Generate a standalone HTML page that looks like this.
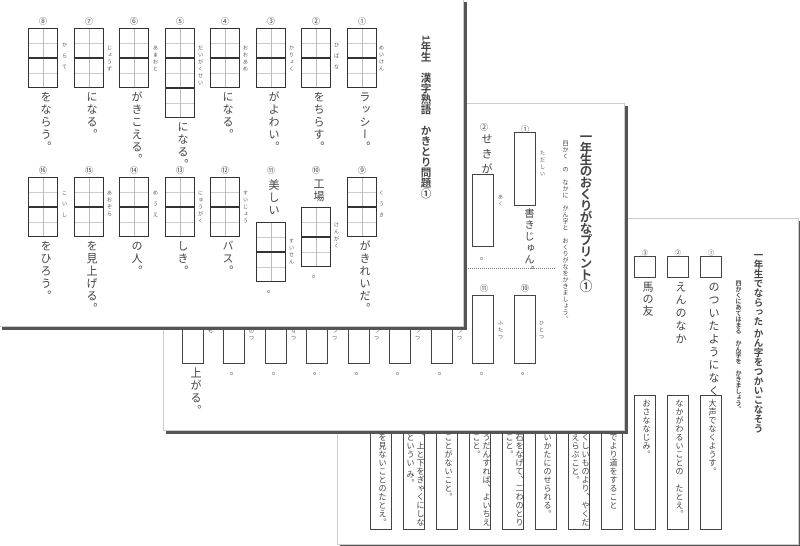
<!DOCTYPE html>
<html><head><meta charset="utf-8"><style>
body{margin:0;width:800px;height:546px;background:#fff;position:relative;overflow:hidden;font-family:"Liberation Sans","Noto Sans CJK JP",sans-serif;color:#444}
.pg{position:absolute;background:#fff;border:1px solid #ccc;box-shadow:3px 3px 0 #555}
.a{position:absolute}
.v{position:absolute;writing-mode:vertical-rl;line-height:1;white-space:nowrap}
.t{font-size:11px;letter-spacing:1.5px;width:13px}
.f{font-size:5px;color:#555;letter-spacing:2px}
.n{position:absolute;font-size:8px;width:20px;text-align:center;color:#444}
.c{position:absolute;width:30px;height:30px;box-sizing:border-box;border:1.5px solid #333;
background:linear-gradient(#bbb,#bbb) 50% 0/1px 100% no-repeat,linear-gradient(#ccc,#ccc) 0 50%/100% 1px no-repeat}
.r{position:absolute;box-sizing:border-box;border:1.3px solid #444;background:#fff}
.s{font-size:8px;letter-spacing:0.5px;color:#444;line-height:10px}
</style></head><body>

<!-- PAGE 3 -->
<div class="pg" style="left:337px;top:218px;width:460px;height:325px"></div>
<div class="v" style="left:752px;top:250px;font-size:9.5px;font-weight:bold;letter-spacing:0">一年生でならった かん字をつかいこなそう</div>
<div class="v" style="left:734px;top:280px;font-size:6px;font-weight:bold">四かくにあてはまる　かん字を　かきましょう。</div>
<div class="n" style="left:701px;top:248px;font-size:6px">①</div>
<div class="n" style="left:668px;top:248px;font-size:6px">②</div>
<div class="n" style="left:635px;top:248px;font-size:6px">③</div>
<div class="r" style="left:700px;top:256px;width:22px;height:22px"></div>
<div class="r" style="left:667px;top:256px;width:22px;height:22px"></div>
<div class="r" style="left:634px;top:256px;width:22px;height:22px"></div>
<div class="v t" style="left:705px;top:281px;letter-spacing:2px">のついたようになく</div>
<div class="v t" style="left:672px;top:281px;letter-spacing:2px">えんのなか</div>
<div class="v t" style="left:639px;top:281px;letter-spacing:1px">馬の友</div>

<div class="r" style="left:700px;top:395px;width:22px;height:135px"></div>
<div class="r" style="left:667px;top:395px;width:22px;height:135px"></div>
<div class="r" style="left:634px;top:395px;width:22px;height:135px"></div>
<div class="r" style="left:601px;top:395px;width:22px;height:135px"></div>
<div class="r" style="left:568px;top:395px;width:22px;height:135px"></div>
<div class="r" style="left:535px;top:395px;width:22px;height:135px"></div>
<div class="r" style="left:502px;top:395px;width:22px;height:135px"></div>
<div class="r" style="left:469px;top:395px;width:22px;height:135px"></div>
<div class="r" style="left:436px;top:395px;width:22px;height:135px"></div>
<div class="r" style="left:403px;top:395px;width:22px;height:135px"></div>
<div class="r" style="left:370px;top:395px;width:22px;height:135px"></div>
<div class="v s" style="left:707px;top:399px">大声でなくようす。</div>
<div class="v s" style="left:674px;top:399px">なかがわるいことの　たとえ。</div>
<div class="v s" style="left:641px;top:399px">おさななじみ。</div>
<div class="v s" style="left:608px;top:433px">でより道をすること</div>
<div class="v s" style="left:570px;top:433px">くしいものより、やくだ<br>えらぶこと。</div>
<div class="v s" style="left:542px;top:433px">いかたにのせられる。</div>
<div class="v s" style="left:504px;top:433px">石をなげて、二わのとり<br>こと。</div>
<div class="v s" style="left:471px;top:433px">うだんすれば、よいちえ<br>こと。</div>
<div class="v s" style="left:443px;top:433px">ことがないこと。</div>
<div class="v s" style="left:405px;top:433px">、上と下をぎゃくにしな<br>というい み。</div>
<div class="v s" style="left:377px;top:433px">を見ないことのたとえ。</div>

<!-- PAGE 2 -->
<div class="pg" style="left:163px;top:103px;width:460px;height:326px"></div>
<div class="v" style="left:578px;top:130px;font-size:12.5px;font-weight:bold;letter-spacing:-1px">一年生のおくりがなプリント①</div>
<div class="v" style="left:561px;top:140px;font-size:6px;letter-spacing:0.5px">四かく　の　なかに　かん字と　おくりがなをかきましょう。</div>
<div class="n" style="left:515px;top:124px">①</div>
<div class="r" style="left:514px;top:132px;width:22px;height:74px"></div>
<div class="v f" style="left:539px;top:150px">ただしい</div>
<div class="v t" style="left:519px;top:208px;font-size:10px">書きじゅん。</div>
<div class="n" style="left:474px;top:122px">②</div>
<div class="v t" style="left:478px;top:133px;font-size:11px;letter-spacing:4px">せきが</div>
<div class="r" style="left:472px;top:174px;width:22px;height:73px"></div>
<div class="v f" style="left:497px;top:194px">あく</div>
<div class="n" style="left:474px;top:251px">。</div>
<div class="a" style="left:463px;top:268px;width:92px;border-top:1px dotted #777"></div>
<div class="n" style="left:515px;top:283px">⑩</div>
<div class="n" style="left:474px;top:283px">⑪</div>
<div class="r" style="left:514px;top:295px;width:22px;height:69px"></div>
<div class="r" style="left:472px;top:295px;width:22px;height:69px"></div>
<div class="r" style="left:431px;top:320px;width:22px;height:44px"></div>
<div class="r" style="left:389px;top:320px;width:22px;height:44px"></div>
<div class="r" style="left:348px;top:320px;width:22px;height:44px"></div>
<div class="r" style="left:306px;top:320px;width:22px;height:44px"></div>
<div class="r" style="left:265px;top:320px;width:22px;height:44px"></div>
<div class="r" style="left:223px;top:320px;width:22px;height:44px"></div>
<div class="r" style="left:182px;top:320px;width:22px;height:44px"></div>
<div class="v f" style="left:538px;top:320px">ひとつ</div>
<div class="v f" style="left:497px;top:320px">ふたつ</div>
<div class="v f" style="left:456px;top:328px">つつ</div>
<div class="v f" style="left:414px;top:328px">つつ</div>
<div class="v f" style="left:373px;top:328px">つつ</div>
<div class="v f" style="left:331px;top:328px">つつ</div>
<div class="v f" style="left:290px;top:328px">なつ</div>
<div class="v f" style="left:248px;top:328px">のつ</div>
<div class="v f" style="left:207px;top:328px">も</div>
<div class="n" style="left:515px;top:366px">。</div>
<div class="n" style="left:474px;top:366px">。</div>
<div class="n" style="left:432px;top:366px">。</div>
<div class="n" style="left:390px;top:366px">。</div>
<div class="n" style="left:349px;top:366px">。</div>
<div class="n" style="left:307px;top:366px">。</div>
<div class="n" style="left:266px;top:366px">。</div>
<div class="n" style="left:224px;top:366px">。</div>
<div class="v t" style="left:187px;top:367px">上がる。</div>

<!-- PAGE 1 -->
<div class="pg" style="left:-1px;top:-1px;width:463px;height:326px"></div>
<div class="v" style="left:420px;top:35px;font-size:10.5px;font-weight:bold;letter-spacing:0">1年生　漢字熟語　かきとり問題①</div>

<div class="n" style="left:352px;top:16px">①</div><div class="c" style="left:347px;top:28px"></div><div class="c" style="left:347px;top:58px"></div><div class="v f" style="left:378px;top:45px">めいけん</div><div class="v t" style="left:356px;top:91px">ラッシー。</div>
<div class="n" style="left:306px;top:16px">②</div><div class="c" style="left:301px;top:28px"></div><div class="c" style="left:301px;top:58px"></div><div class="v f" style="left:333px;top:42px;letter-spacing:6px">ひばな</div><div class="v t" style="left:310px;top:91px">をちらす。</div>
<div class="n" style="left:261px;top:16px">③</div><div class="c" style="left:256px;top:28px"></div><div class="c" style="left:256px;top:58px"></div><div class="v f" style="left:288px;top:45px">かりょく</div><div class="v t" style="left:265px;top:91px">がよわい。</div>
<div class="n" style="left:215px;top:16px">④</div><div class="c" style="left:210px;top:28px"></div><div class="c" style="left:210px;top:58px"></div><div class="v f" style="left:242px;top:45px">おおあめ</div><div class="v t" style="left:219px;top:91px">になる。</div>
<div class="n" style="left:170px;top:16px">⑤</div><div class="c" style="left:165px;top:28px"></div><div class="c" style="left:165px;top:58px"></div><div class="c" style="left:165px;top:88px"></div><div class="v f" style="left:197px;top:45px">だいがくせい</div><div class="v t" style="left:174px;top:121px">になる。</div>
<div class="n" style="left:124px;top:16px">⑥</div><div class="c" style="left:119px;top:28px"></div><div class="c" style="left:119px;top:58px"></div><div class="v f" style="left:152px;top:45px">あまおと</div><div class="v t" style="left:128px;top:91px">がきこえる。</div>
<div class="n" style="left:79px;top:16px">⑦</div><div class="c" style="left:74px;top:28px"></div><div class="c" style="left:74px;top:58px"></div><div class="v f" style="left:106px;top:45px">じょうず</div><div class="v t" style="left:83px;top:91px">になる。</div>
<div class="n" style="left:33px;top:16px">⑧</div><div class="c" style="left:28px;top:28px"></div><div class="c" style="left:28px;top:58px"></div><div class="v f" style="left:61px;top:42px;letter-spacing:6px">からて</div><div class="v t" style="left:37px;top:91px">をならう。</div>

<div class="n" style="left:352px;top:165px">⑨</div><div class="c" style="left:347px;top:177px"></div><div class="c" style="left:347px;top:207px"></div><div class="v f" style="left:378px;top:190px;letter-spacing:6px">くうき</div><div class="v t" style="left:356px;top:240px">がきれいだ。</div>
<div class="n" style="left:306px;top:165px">⑩</div><div class="v t" style="left:310px;top:178px">工場</div><div class="c" style="left:301px;top:207px"></div><div class="c" style="left:301px;top:237px"></div><div class="v f" style="left:333px;top:222px">けんがく</div><div class="n" style="left:306px;top:269px">。</div>
<div class="n" style="left:261px;top:165px">⑪</div><div class="v t" style="left:265px;top:179px">美しい</div><div class="c" style="left:256px;top:222px"></div><div class="c" style="left:256px;top:252px"></div><div class="v f" style="left:288px;top:238px">すいせん</div><div class="n" style="left:261px;top:284px">。</div>
<div class="n" style="left:215px;top:165px">⑫</div><div class="c" style="left:210px;top:177px"></div><div class="c" style="left:210px;top:207px"></div><div class="v f" style="left:242px;top:190px">すいじょう</div><div class="v t" style="left:219px;top:240px">バス。</div>
<div class="n" style="left:170px;top:165px">⑬</div><div class="c" style="left:165px;top:177px"></div><div class="c" style="left:165px;top:207px"></div><div class="v f" style="left:197px;top:190px">にゅうがく</div><div class="v t" style="left:174px;top:240px">しき。</div>
<div class="n" style="left:124px;top:165px">⑭</div><div class="c" style="left:119px;top:177px"></div><div class="c" style="left:119px;top:207px"></div><div class="v f" style="left:152px;top:190px;letter-spacing:6px">めうえ</div><div class="v t" style="left:128px;top:240px">の人。</div>
<div class="n" style="left:79px;top:165px">⑮</div><div class="c" style="left:74px;top:177px"></div><div class="c" style="left:74px;top:207px"></div><div class="v f" style="left:106px;top:190px">あおぞら</div><div class="v t" style="left:83px;top:240px">を見上げる。</div>
<div class="n" style="left:33px;top:165px">⑯</div><div class="c" style="left:28px;top:177px"></div><div class="c" style="left:28px;top:207px"></div><div class="v f" style="left:61px;top:190px;letter-spacing:6px">こいし</div><div class="v t" style="left:37px;top:240px">をひろう。</div>

</body></html>
